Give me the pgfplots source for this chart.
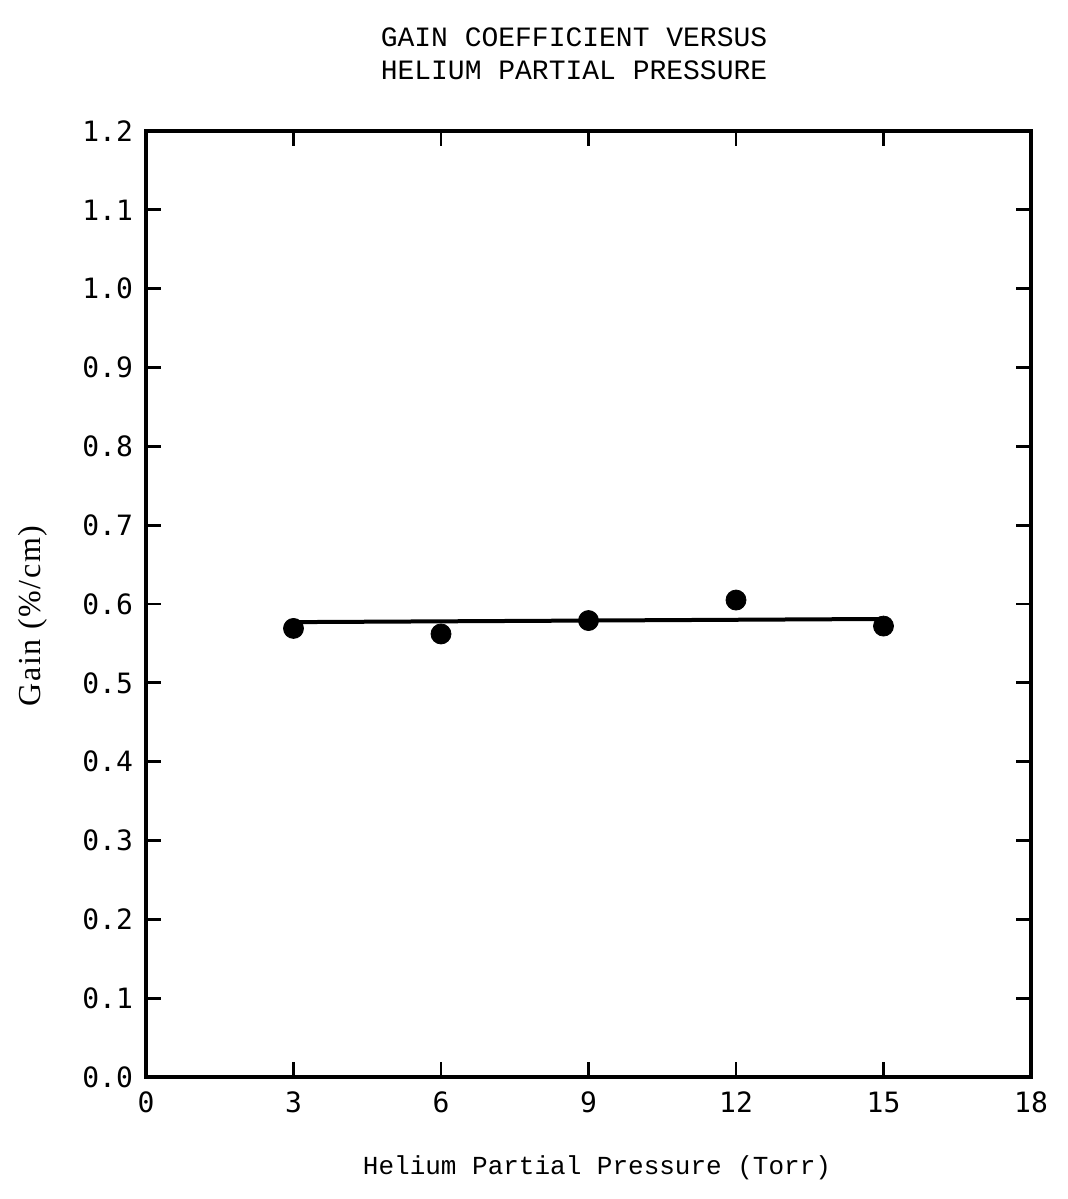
\documentclass[border=0pt]{standalone}
\usepackage{fontspec}
\usepackage{pgfplots}
\pgfplotsset{compat=1.18}
\newfontfamily\tickfont{DejaVu Sans Mono}
\newfontfamily\monofont{Liberation Mono}
\newfontfamily\ylabfont[LetterSpace=5]{Liberation Serif}
\begin{document}
\begin{tikzpicture}
\useasboundingbox (-73pt,-61pt) rectangle (461pt,538.5pt);
\begin{axis}[
  at={(0,0)}, anchor=south west,
  scale only axis, width=442.5pt, height=473pt,
  xmin=0, xmax=18, ymin=0, ymax=1.2,
  xtick={0,3,6,9,12,15,18},
  ytick={0,0.1,0.2,0.3,0.4,0.5,0.6,0.7,0.8,0.9,1.0,1.1,1.2},
  yticklabel style={/pgf/number format/fixed, /pgf/number format/fixed zerofill, /pgf/number format/precision=1, xshift=-3pt},
  /pgf/number format/assume math mode=true,
  ticklabel style={font=\tickfont\fontsize{14}{16}\selectfont},
  xticklabel style={yshift=-4pt},
  tick align=inside, major tick length=7.5pt,
  tick style={line width=1.4pt, black},
  axis line style={line width=1.6pt},
  clip=false,
]
\addplot[black, line width=2pt, no markers] coordinates {(3,0.577) (15,0.581)};
\addplot[only marks, mark=*, mark size=5pt, black] coordinates {
(3,0.569) (6,0.562) (9,0.579) (12,0.605) (15,0.572)};
\end{axis}
\node[font=\monofont\fontsize{14}{16}\selectfont] at (214pt,520pt) {GAIN COEFFICIENT VERSUS};
\node[font=\monofont\fontsize{14}{16}\selectfont] at (214pt,503.5pt) {HELIUM PARTIAL PRESSURE};
\node[font=\monofont\fontsize{13}{15}\selectfont] at (225.5pt,-45.5pt) {Helium Partial Pressure (Torr)};
\node[font=\ylabfont\fontsize{16}{18}\selectfont, rotate=90] at (-56.5pt,230.5pt) {Gain (\%/cm)};
\end{tikzpicture}
\end{document}
